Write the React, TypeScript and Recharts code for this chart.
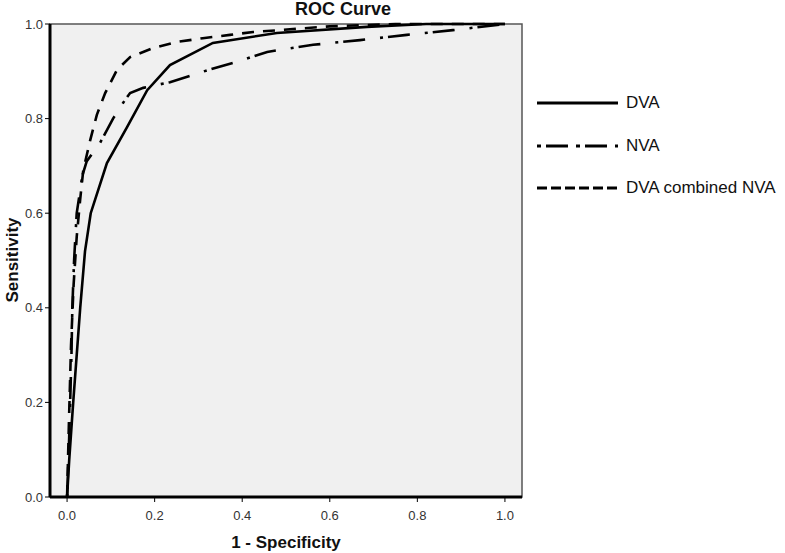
import { Label, Line, LineChart, ReferenceArea, XAxis, YAxis } from "recharts";

// ROC points (1 - specificity, sensitivity)
const dvaX = [0, 0.005, 0.014, 0.03, 0.041, 0.054, 0.091, 0.137, 0.183, 0.235, 0.333, 0.479, 0.685, 0.82, 1];
const dvaY = [0, 0.08, 0.2, 0.4, 0.52, 0.6, 0.706, 0.782, 0.86, 0.913, 0.96, 0.981, 0.994, 1, 1];

const nvaX = [0, 0.004, 0.007, 0.01, 0.012, 0.016, 0.022, 0.035, 0.045, 0.075, 0.105, 0.132, 0.144, 0.174, 0.235, 0.33, 0.388, 0.457, 0.562, 0.669, 0.776, 0.881, 1];
const nvaY = [0, 0.1, 0.2, 0.3, 0.4, 0.5, 0.6, 0.68, 0.71, 0.748, 0.8, 0.839, 0.854, 0.865, 0.877, 0.905, 0.92, 0.941, 0.956, 0.966, 0.977, 0.987, 1];

const comboX = [0, 0.004, 0.009, 0.015, 0.022, 0.03, 0.037, 0.053, 0.068, 0.087, 0.114, 0.144, 0.196, 0.251, 0.31, 0.372, 0.425, 0.6, 0.75, 1];
const comboY = [0, 0.15, 0.32, 0.45, 0.55, 0.63, 0.691, 0.755, 0.808, 0.854, 0.903, 0.93, 0.949, 0.962, 0.97, 0.977, 0.983, 0.995, 1, 1];

const xTicks = [0, 0.2, 0.4, 0.6, 0.8, 1];
const yTicks = [0, 0.2, 0.4, 0.6, 0.8, 1];

const FONT = "'Liberation Sans', Arial, sans-serif";

const zip = (xs: number[], ys: number[]) => xs.map((x, i) => ({ x, y: ys[i] }));

const series = [
  { name: "DVA", data: zip(dvaX, dvaY), dash: undefined, legendDash: undefined },
  { name: "NVA", data: zip(nvaX, nvaY), dash: "3 5 22 15", legendDash: "4 5 22 8" },
  { name: "DVA combined NVA", data: zip(comboX, comboY), dash: "12 9", legendDash: "10 4" },
];

function RocLegend() {
  return (
    <div style={{ position: "absolute", left: 537, top: 82 }}>
      {series.map((s) => (
        <div key={s.name} style={{ display: "flex", alignItems: "center", height: 42.5 }}>
          <svg width={82} height={6}>
            <line x1={0} y1={3} x2={81} y2={3} stroke="#000" strokeWidth={3} strokeDasharray={s.legendDash} />
          </svg>
          <span style={{ marginLeft: 7, fontSize: 17, color: "#111" }}>{s.name}</span>
        </div>
      ))}
    </div>
  );
}

export default function App() {
  return (
    <div style={{ position: "absolute", left: 0, top: 0, width: 785, height: 553, background: "#fff", fontFamily: FONT }}>
      <div
        style={{
          position: "absolute",
          left: 243,
          top: 0,
          width: 200,
          textAlign: "center",
          fontSize: 18,
          lineHeight: "18px",
          fontWeight: "bold",
          color: "#111",
        }}
      >
        ROC Curve
      </div>
      <LineChart width={785} height={553} margin={{ top: 24, right: 263, bottom: 0, left: 0 }}>
        <ReferenceArea
          x1={-0.039}
          x2={1.039}
          y1={0}
          y2={1}
          fill="#f0f0f0"
          fillOpacity={1}
          stroke="#555"
          strokeWidth={1.5}
          ifOverflow="visible"
        />
        <XAxis
          type="number"
          dataKey="x"
          domain={[-0.039, 1.039]}
          ticks={xTicks}
          allowDataOverflow
          height={56}
          tickFormatter={(v: number) => v.toFixed(1)}
          axisLine={{ stroke: "#000", strokeWidth: 3 }}
          tickLine={{ stroke: "#000" }}
          tick={{ fill: "#333", fontSize: 13, fontFamily: FONT }}
          tickSize={5}
          tickMargin={9}
        >
          <Label
            content={() => (
              <text x={286} y={548} textAnchor="middle" fontSize={17} fontWeight="bold" fill="#111" fontFamily={FONT}>
                1 - Specificity
              </text>
            )}
          />
        </XAxis>
        <YAxis
          type="number"
          domain={[0, 1]}
          ticks={yTicks}
          width={50}
          tickFormatter={(v: number) => v.toFixed(1)}
          axisLine={{ stroke: "#000", strokeWidth: 3 }}
          tickLine={{ stroke: "#000" }}
          tick={{ fill: "#333", fontSize: 13, fontFamily: FONT }}
          tickSize={5}
          tickMargin={2}
        >
          <Label
            content={() => (
              <text
                x={18}
                y={260}
                transform="rotate(-90 18 260)"
                textAnchor="middle"
                fontSize={17}
                fontWeight="bold"
                fill="#111"
                fontFamily={FONT}
              >
                Sensitivity
              </text>
            )}
          />
        </YAxis>
        {series.map((s) => (
          <Line
            key={s.name}
            data={s.data}
            dataKey="y"
            name={s.name}
            type="linear"
            stroke="#000"
            strokeWidth={2.6}
            strokeDasharray={s.dash}
            dot={false}
            activeDot={false}
            isAnimationActive={false}
          />
        ))}
      </LineChart>
      <RocLegend />
    </div>
  );
}
